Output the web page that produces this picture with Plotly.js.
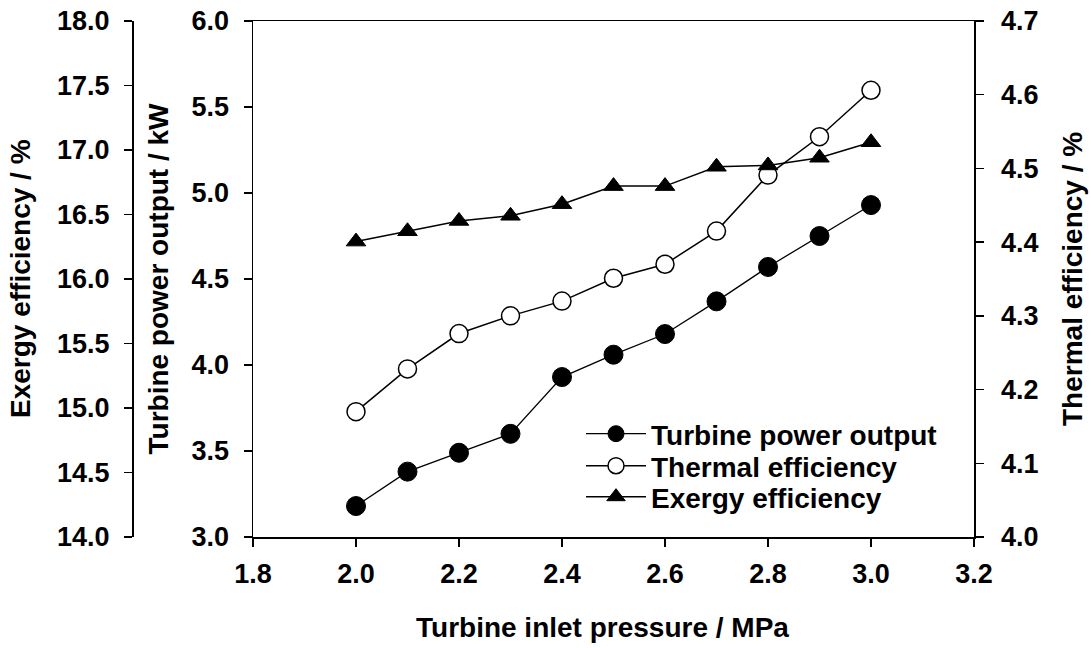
<!DOCTYPE html>
<html>
<head>
<meta charset="utf-8">
<script src="https://cdn.plot.ly/plotly-3.0.1.min.js"></script>
<style>html,body{margin:0;padding:0;background:#fff;}#chart{width:1091px;height:648px;}</style>
</head>
<body>
<div id="chart"></div>
<script>
const pressure = [2.0, 2.1, 2.2, 2.3, 2.4, 2.5, 2.6, 2.7, 2.8, 2.9, 3.0];
const powerOutput = [3.18, 3.38, 3.49, 3.60, 3.93, 4.06, 4.18, 4.37, 4.57, 4.75, 4.93];
const thermalEff = [4.170, 4.228, 4.276, 4.300, 4.320, 4.351, 4.370, 4.415, 4.491, 4.543, 4.606];
const exergyEff = [16.29, 16.37, 16.45, 16.49, 16.58, 16.72, 16.72, 16.87, 16.88, 16.94, 17.06];
const seriesNames = ['Turbine power output', 'Thermal efficiency', 'Exergy efficiency'];
const xTitle = 'Turbine inlet pressure / MPa';
const powerTitle = 'Turbine power output / kW';
const thermalTitle = 'Thermal efficiency / %';
const exergyTitle = 'Exergy efficiency / %';

const FAM = '"Liberation Sans", Arial, sans-serif';
const tickFont = {family: FAM, size: 27, color: '#000', weight: 700};
const titleFont = {family: FAM, size: 28, color: '#000', weight: 700};

const traces = [
  {x: pressure, y: powerOutput, name: seriesNames[0], yaxis: 'y', xaxis: 'x', legend: 'legend',
   mode: 'lines+markers', line: {color: '#000', width: 1.3},
   marker: {symbol: 'circle', size: 19, color: '#000', line: {color: '#000', width: 1}}},
  {x: pressure, y: thermalEff, name: seriesNames[1], yaxis: 'y2', xaxis: 'x', legend: 'legend2',
   mode: 'lines+markers', line: {color: '#000', width: 1.5},
   marker: {symbol: 'circle', size: 18, color: '#fff', line: {color: '#000', width: 1.5}}},
  {x: pressure, y: exergyEff, name: seriesNames[2], yaxis: 'y3', xaxis: 'x', legend: 'legend3',
   mode: 'lines+markers', line: {color: '#000', width: 1.5},
   marker: {symbol: 'triangle-up', size: 17, color: '#000', line: {color: '#000', width: 1}}}
];

const L = 60, R = 117, T = 21, B = 111;
const W = 1091, H = 648;
const pw = W - L - R, ph = H - T - B;
const px = v => (v - L) / pw;
const py = v => 1 - (v - T) / ph;

const axisCommon = {
  showline: true, linecolor: '#000', linewidth: 1.5,
  ticks: 'outside', ticklen: 8, tickwidth: 1.5, tickcolor: '#000',
  showgrid: false, zeroline: false, tickfont: tickFont, tickformat: '.1f'
};

const legendCommon = {
  font: {family: FAM, size: 28, color: '#000', weight: 700},
  bgcolor: 'rgba(0,0,0,0)', borderwidth: 0, xanchor: 'left', yanchor: 'middle',
  itemwidth: 60, itemsizing: 'trace'
};

const layout = {
  width: W, height: H,
  margin: {l: L, r: R, t: T, b: B, pad: 0},
  paper_bgcolor: '#fff', plot_bgcolor: '#fff',
  showlegend: true,
  xaxis: Object.assign({}, axisCommon, {
    domain: [px(253), 1], range: [1.8, 3.2], dtick: 0.2, tick0: 1.8,
    mirror: true, anchor: 'y', ticklabelstandoff: 4
  }),
  yaxis: Object.assign({}, axisCommon, {
    range: [3, 6], dtick: 0.5, tick0: 3, anchor: 'x', side: 'left', ticklabelstandoff: 9
  }),
  yaxis2: Object.assign({}, axisCommon, {
    range: [4, 4.7], dtick: 0.1, tick0: 4, overlaying: 'y', side: 'right', anchor: 'x', ticklabelstandoff: 12
  }),
  yaxis3: Object.assign({}, axisCommon, {
    range: [14, 18], dtick: 0.5, tick0: 14, overlaying: 'y', side: 'left',
    anchor: 'free', position: px(132), ticklabelstandoff: 9
  }),
  legend: Object.assign({}, legendCommon, {x: px(581), y: py(434)}),
  legend2: Object.assign({}, legendCommon, {x: px(581), y: py(466)}),
  legend3: Object.assign({}, legendCommon, {x: px(581), y: py(497)}),
  annotations: [
    {text: xTitle, xref: 'paper', yref: 'paper', x: px(602.5), y: py(627), xanchor: 'center', yanchor: 'middle', showarrow: false, font: titleFont},
    {text: powerTitle, xref: 'paper', yref: 'paper', x: px(157.5), y: py(279), xanchor: 'center', yanchor: 'middle', textangle: -90, showarrow: false, font: titleFont},
    {text: exergyTitle, xref: 'paper', yref: 'paper', x: px(20), y: py(279), xanchor: 'center', yanchor: 'middle', textangle: -90, showarrow: false, font: titleFont},
    {text: thermalTitle, xref: 'paper', yref: 'paper', x: px(1072), y: py(279), xanchor: 'center', yanchor: 'middle', textangle: -90, showarrow: false, font: titleFont}
  ]
};

Plotly.newPlot('chart', traces, layout, {displayModeBar: false, staticPlot: true});
</script>
</body>
</html>
